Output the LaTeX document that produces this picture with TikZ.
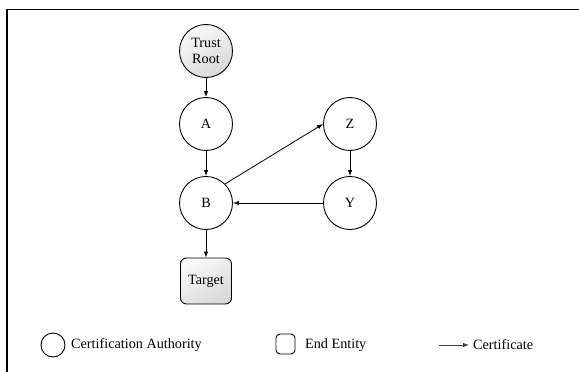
\documentclass[tikz,border=0pt]{standalone}
\usepackage{fontspec}
\setmainfont{Liberation Serif}
\usetikzlibrary{arrows.meta}
\begin{document}
\begin{tikzpicture}[x=1pt,y=-1pt,
  font=\fontsize{14.2}{16}\selectfont,
  ca/.style={circle,draw,line width=0.9pt,minimum size=53pt,inner sep=0pt,align=center},
  shaded/.style={shading=axis,top color=gray!5,bottom color=gray!30,shading angle=30},
  ee/.style={rectangle,rounded corners=6pt,draw,line width=0.9pt,minimum width=51pt,minimum height=46pt,inner sep=0pt},
  cert/.style={-{Latex[length=6pt,width=4.5pt]},line width=0.8pt},
  lbl/.style={anchor=west,inner sep=0pt}]
\useasboundingbox (0,0) rectangle (579,372);
\draw[line width=1.3pt] (7,372) -- (7,9.5) -- (579,9.5);
% nodes
\node[ca,shaded] (tr) at (206,51) {Trust\\Root};
\node[ca] (a) at (206,124) {A};
\node[ca] (b) at (206,203) {B};
\node[ca] (z) at (350,124) {Z};
\node[ca] (y) at (350,203) {Y};
\node[ee,shaded] (t) at (206,281) {Target};
% certificates
\draw[cert] (tr) -- (a);
\draw[cert] (a) -- (b);
\draw[cert] (b.north east) -- (z.west);
\draw[cert] (z) -- (y);
\draw[cert] (y) -- (b);
\draw[cert] (b) -- (t);
% legend
\node[circle,draw,line width=0.9pt,minimum size=24pt,inner sep=0pt] (lca) at (53,345) {};
\node[lbl] (lcat) at (71,345) {Certification Authority};
\node[rectangle,rounded corners=4pt,draw,line width=0.9pt,minimum width=19pt,minimum height=20pt,inner sep=0pt] (lee) at (285.5,344) {};
\node[lbl] (leet) at (305,345) {End Entity};
\coordinate (la) at (439,345);
\node[lbl] (lct) at (473,345) {Certificate};
\draw[cert,black!75,shorten >=4pt] (la) -- (lct.west);
\end{tikzpicture}
\end{document}
